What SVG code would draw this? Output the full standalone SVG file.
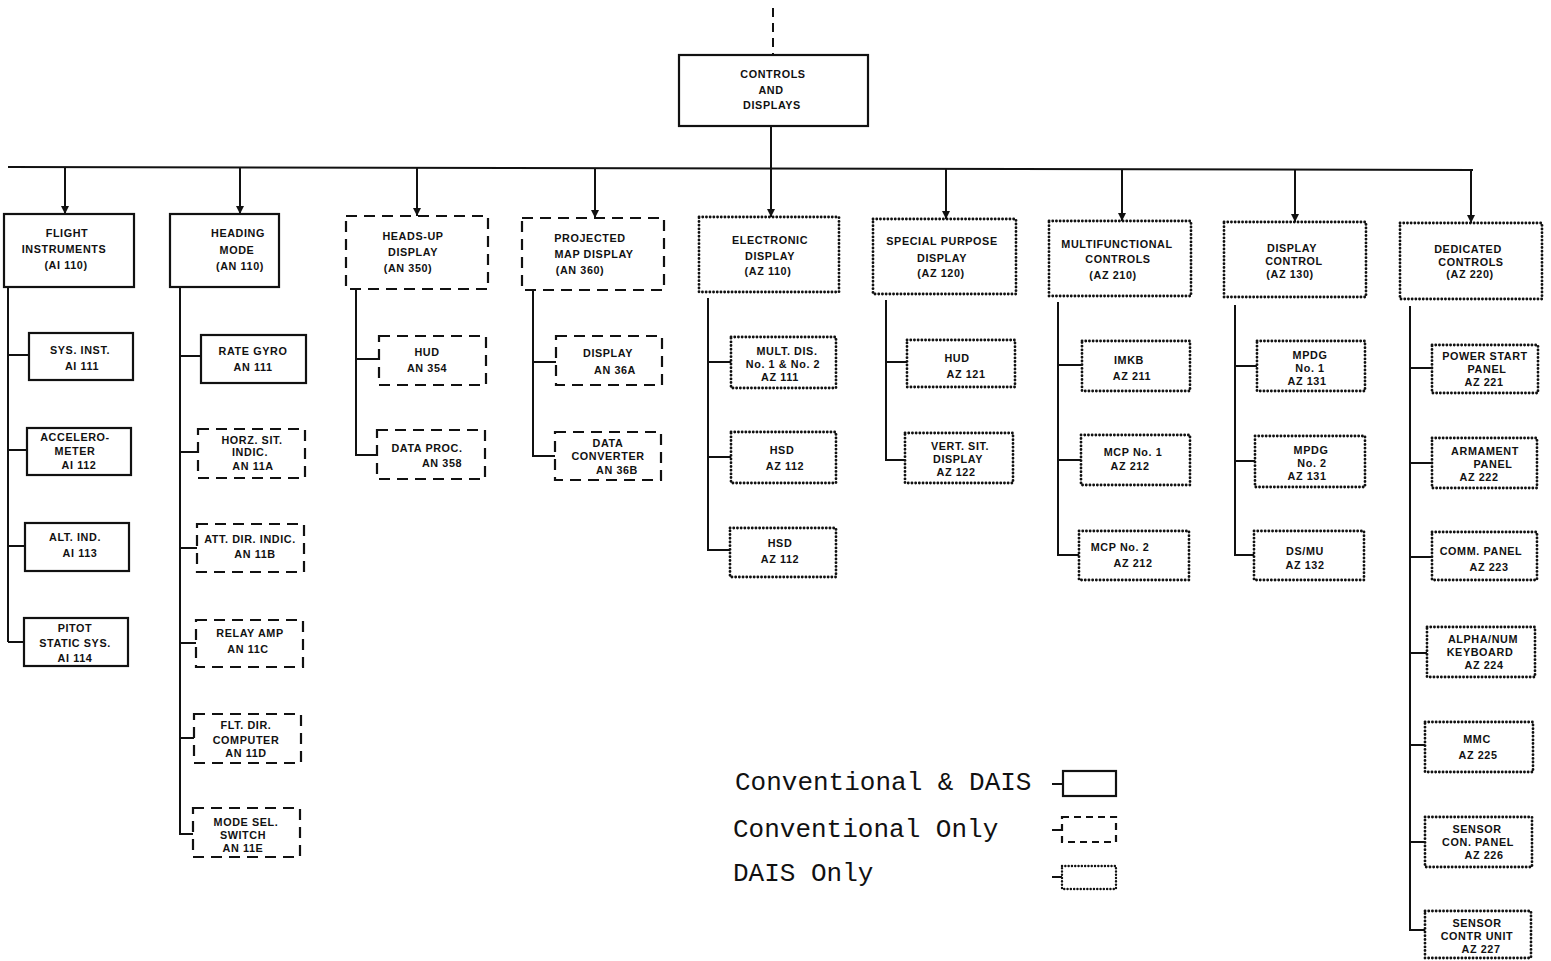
<svg xmlns="http://www.w3.org/2000/svg" width="1551" height="961" viewBox="0 0 1551 961">
<defs>
<marker id="arr" viewBox="0 0 10 10" refX="5" refY="10" markerWidth="8" markerHeight="9" markerUnits="userSpaceOnUse">
<path d="M0,0 L10,0 L5,10 Z" fill="#111"/>
</marker>
<style>
.solid{fill:#fff;stroke:#111;stroke-width:2.2}
.dash{fill:#fff;stroke:#111;stroke-width:2.2;stroke-dasharray:11 7}
.dot{fill:#fff;stroke:#111;stroke-width:2.8;stroke-dasharray:0.1 3.6;stroke-linecap:round}
.ln{fill:none;stroke:#111;stroke-width:2}
.t{font-family:"Liberation Sans",Arial,sans-serif;font-weight:bold;font-size:10.8px;letter-spacing:0.6px;text-anchor:middle;fill:#111}
.lg{font-family:"Liberation Mono","Courier New",monospace;font-size:26px;fill:#111}
</style>
</defs>
<rect width="1551" height="961" fill="#fff"/>

<g id="connectors">
<line class="ln" x1="773" y1="8" x2="773" y2="55" stroke-dasharray="9 6"/>
<line class="ln" x1="771" y1="126" x2="771" y2="168"/>
<line class="ln" x1="8" y1="167" x2="1473" y2="170"/>
<line class="ln" x1="65" y1="167" x2="65" y2="214" marker-end="url(#arr)"/>
<line class="ln" x1="240" y1="167" x2="240" y2="214" marker-end="url(#arr)"/>
<line class="ln" x1="417" y1="168" x2="417" y2="216" marker-end="url(#arr)"/>
<line class="ln" x1="595" y1="168" x2="595" y2="218" marker-end="url(#arr)"/>
<line class="ln" x1="771" y1="168" x2="771" y2="217" marker-end="url(#arr)"/>
<line class="ln" x1="946" y1="169" x2="946" y2="219" marker-end="url(#arr)"/>
<line class="ln" x1="1122" y1="169" x2="1122" y2="221" marker-end="url(#arr)"/>
<line class="ln" x1="1295" y1="170" x2="1295" y2="222" marker-end="url(#arr)"/>
<line class="ln" x1="1471" y1="170" x2="1471" y2="223" marker-end="url(#arr)"/>
<path class="ln" d="M8,287 V642 M8,355 H29 M8,450 H27 M8,546 H25 M8,642 H24"/>
<path class="ln" d="M180,287 V834 H193 M180,356 H201 M180,452 H198 M180,548 H197 M180,643 H196 M180,738 H194"/>
<path class="ln" d="M356,289 V455 H377 M356,359 H379"/>
<path class="ln" d="M533,290 V456 H555 M533,362 H556"/>
<path class="ln" d="M708,298 V550 H730 M708,362 H731 M708,457 H731"/>
<path class="ln" d="M886,300 V460 H905 M886,362 H907"/>
<path class="ln" d="M1058,302 V555 H1079 M1058,365 H1082 M1058,460 H1081"/>
<path class="ln" d="M1235,305 V555 H1254 M1235,366 H1257 M1235,461 H1255"/>
<path class="ln" d="M1410,306 V930 H1425 M1410,368 H1432 M1410,463 H1432 M1410,557 H1432 M1410,653 H1427 M1410,745 H1425 M1410,842 H1425"/>
</g>

<g id="controls-displays">
<rect class="solid" x="679" y="55" width="189" height="71"/>
<text class="t" x="773" y="78">CONTROLS</text>
<text class="t" x="771" y="94">AND</text>
<text class="t" x="772" y="109">DISPLAYS</text>
</g>

<g id="flight-instruments">
<rect class="solid" x="4" y="214" width="130" height="73"/>
<text class="t" x="67" y="237">FLIGHT</text>
<text class="t" x="64" y="253">INSTRUMENTS</text>
<text class="t" x="66" y="269">(AI 110)</text>
</g>
<g id="ai111"><rect class="solid" x="29" y="333" width="104" height="47"/><text class="t" x="80" y="354">SYS. INST.</text><text class="t" x="82" y="370">AI 111</text></g>
<g id="ai112"><rect class="solid" x="27" y="428" width="104" height="47"/><text class="t" x="75" y="441">ACCELERO-</text><text class="t" x="75" y="455">METER</text><text class="t" x="79" y="469">AI 112</text></g>
<g id="ai113"><rect class="solid" x="25" y="523" width="104" height="48"/><text class="t" x="75" y="541">ALT. IND.</text><text class="t" x="80" y="557">AI 113</text></g>
<g id="ai114"><rect class="solid" x="24" y="618" width="104" height="48"/><text class="t" x="75" y="632">PITOT</text><text class="t" x="75" y="647">STATIC SYS.</text><text class="t" x="75" y="662">AI 114</text></g>

<g id="heading-mode">
<rect class="solid" x="170" y="214" width="109" height="73"/>
<text class="t" x="238" y="237">HEADING</text>
<text class="t" x="237" y="254">MODE</text>
<text class="t" x="240" y="270">(AN 110)</text>
</g>
<g id="an111"><rect class="solid" x="201" y="335" width="105" height="48"/><text class="t" x="253" y="355">RATE GYRO</text><text class="t" x="253" y="371">AN 111</text></g>
<g id="an11a"><rect class="dash" x="198" y="429" width="107" height="49"/><text class="t" x="252" y="444">HORZ. SIT.</text><text class="t" x="250" y="456">INDIC.</text><text class="t" x="253" y="470">AN 11A</text></g>
<g id="an11b"><rect class="dash" x="197" y="524" width="107" height="48"/><text class="t" x="250" y="543">ATT. DIR. INDIC.</text><text class="t" x="255" y="558">AN 11B</text></g>
<g id="an11c"><rect class="dash" x="196" y="620" width="107" height="47"/><text class="t" x="250" y="637">RELAY AMP</text><text class="t" x="248" y="653">AN 11C</text></g>
<g id="an11d"><rect class="dash" x="194" y="714" width="107" height="49"/><text class="t" x="246" y="729">FLT. DIR.</text><text class="t" x="246" y="744">COMPUTER</text><text class="t" x="246" y="757">AN 11D</text></g>
<g id="an11e"><rect class="dash" x="193" y="808" width="107" height="49"/><text class="t" x="246" y="826">MODE SEL.</text><text class="t" x="243" y="839">SWITCH</text><text class="t" x="243" y="852">AN 11E</text></g>

<g id="heads-up-display">
<rect class="dash" x="346" y="216" width="142" height="73"/>
<text class="t" x="413" y="240">HEADS-UP</text>
<text class="t" x="413" y="256">DISPLAY</text>
<text class="t" x="408" y="272">(AN 350)</text>
</g>
<g id="an354"><rect class="dash" x="379" y="336" width="107" height="49"/><text class="t" x="427" y="356">HUD</text><text class="t" x="427" y="372">AN 354</text></g>
<g id="an358"><rect class="dash" x="377" y="430" width="108" height="49"/><text class="t" x="427" y="452">DATA PROC.</text><text class="t" x="442" y="467">AN 358</text></g>

<g id="projected-map-display">
<rect class="dash" x="522" y="218" width="142" height="72"/>
<text class="t" x="590" y="242">PROJECTED</text>
<text class="t" x="594" y="258">MAP DISPLAY</text>
<text class="t" x="580" y="274">(AN 360)</text>
</g>
<g id="an36a"><rect class="dash" x="556" y="336" width="106" height="49"/><text class="t" x="608" y="357">DISPLAY</text><text class="t" x="615" y="374">AN 36A</text></g>
<g id="an36b"><rect class="dash" x="555" y="432" width="106" height="48"/><text class="t" x="608" y="447">DATA</text><text class="t" x="608" y="460">CONVERTER</text><text class="t" x="617" y="474">AN 36B</text></g>

<g id="electronic-display">
<rect class="dot" x="699" y="217" width="140" height="75"/>
<text class="t" x="770" y="244">ELECTRONIC</text>
<text class="t" x="770" y="260">DISPLAY</text>
<text class="t" x="768" y="275">(AZ 110)</text>
</g>
<g id="az111"><rect class="dot" x="731" y="337" width="105" height="51"/><text class="t" x="787" y="355">MULT. DIS.</text><text class="t" x="783" y="368">No. 1 &amp; No. 2</text><text class="t" x="780" y="381">AZ 111</text></g>
<g id="az112a"><rect class="dot" x="731" y="432" width="105" height="51"/><text class="t" x="782" y="454">HSD</text><text class="t" x="785" y="470">AZ 112</text></g>
<g id="az112b"><rect class="dot" x="730" y="528" width="106" height="49"/><text class="t" x="780" y="547">HSD</text><text class="t" x="780" y="563">AZ 112</text></g>

<g id="special-purpose-display">
<rect class="dot" x="873" y="219" width="143" height="75"/>
<text class="t" x="942" y="245">SPECIAL PURPOSE</text>
<text class="t" x="942" y="262">DISPLAY</text>
<text class="t" x="941" y="277">(AZ 120)</text>
</g>
<g id="az121"><rect class="dot" x="907" y="340" width="108" height="47"/><text class="t" x="957" y="362">HUD</text><text class="t" x="966" y="378">AZ 121</text></g>
<g id="az122"><rect class="dot" x="905" y="433" width="108" height="50"/><text class="t" x="960" y="450">VERT. SIT.</text><text class="t" x="958" y="463">DISPLAY</text><text class="t" x="956" y="476">AZ 122</text></g>

<g id="multifunctional-controls">
<rect class="dot" x="1049" y="221" width="142" height="75"/>
<text class="t" x="1117" y="248">MULTIFUNCTIONAL</text>
<text class="t" x="1118" y="263">CONTROLS</text>
<text class="t" x="1113" y="279">(AZ 210)</text>
</g>
<g id="az211"><rect class="dot" x="1082" y="341" width="108" height="50"/><text class="t" x="1129" y="364">IMKB</text><text class="t" x="1132" y="380">AZ 211</text></g>
<g id="az212a"><rect class="dot" x="1081" y="435" width="109" height="50"/><text class="t" x="1133" y="456">MCP No. 1</text><text class="t" x="1130" y="470">AZ 212</text></g>
<g id="az212b"><rect class="dot" x="1079" y="531" width="110" height="49"/><text class="t" x="1120" y="551">MCP No. 2</text><text class="t" x="1133" y="567">AZ 212</text></g>

<g id="display-control">
<rect class="dot" x="1224" y="222" width="142" height="75"/>
<text class="t" x="1292" y="252">DISPLAY</text>
<text class="t" x="1294" y="265">CONTROL</text>
<text class="t" x="1290" y="278">(AZ 130)</text>
</g>
<g id="az131a"><rect class="dot" x="1257" y="341" width="108" height="50"/><text class="t" x="1310" y="359">MPDG</text><text class="t" x="1310" y="372">No. 1</text><text class="t" x="1307" y="385">AZ 131</text></g>
<g id="az131b"><rect class="dot" x="1255" y="436" width="110" height="51"/><text class="t" x="1311" y="454">MPDG</text><text class="t" x="1312" y="467">No. 2</text><text class="t" x="1307" y="480">AZ 131</text></g>
<g id="az132"><rect class="dot" x="1254" y="531" width="110" height="49"/><text class="t" x="1305" y="555">DS/MU</text><text class="t" x="1305" y="569">AZ 132</text></g>

<g id="dedicated-controls">
<rect class="dot" x="1400" y="223" width="142" height="76"/>
<text class="t" x="1468" y="253">DEDICATED</text>
<text class="t" x="1471" y="266">CONTROLS</text>
<text class="t" x="1470" y="278">(AZ 220)</text>
</g>
<g id="az221"><rect class="dot" x="1432" y="345" width="106" height="48"/><text class="t" x="1485" y="360">POWER START</text><text class="t" x="1487" y="373">PANEL</text><text class="t" x="1484" y="386">AZ 221</text></g>
<g id="az222"><rect class="dot" x="1432" y="438" width="105" height="50"/><text class="t" x="1485" y="455">ARMAMENT</text><text class="t" x="1493" y="468">PANEL</text><text class="t" x="1479" y="481">AZ 222</text></g>
<g id="az223"><rect class="dot" x="1432" y="532" width="105" height="48"/><text class="t" x="1481" y="555">COMM. PANEL</text><text class="t" x="1489" y="571">AZ 223</text></g>
<g id="az224"><rect class="dot" x="1427" y="627" width="108" height="50"/><text class="t" x="1483" y="643">ALPHA/NUM</text><text class="t" x="1480" y="656">KEYBOARD</text><text class="t" x="1484" y="669">AZ 224</text></g>
<g id="az225"><rect class="dot" x="1425" y="722" width="108" height="50"/><text class="t" x="1477" y="743">MMC</text><text class="t" x="1478" y="759">AZ 225</text></g>
<g id="az226"><rect class="dot" x="1425" y="817" width="107" height="50"/><text class="t" x="1477" y="833">SENSOR</text><text class="t" x="1478" y="846">CON. PANEL</text><text class="t" x="1484" y="859">AZ 226</text></g>
<g id="az227"><rect class="dot" x="1425" y="911" width="106" height="47"/><text class="t" x="1477" y="927">SENSOR</text><text class="t" x="1477" y="940">CONTR UNIT</text><text class="t" x="1481" y="953">AZ 227</text></g>

<g id="legend">
<text class="lg" x="735" y="790">Conventional &amp; DAIS</text>
<text class="lg" x="733" y="837">Conventional Only</text>
<text class="lg" x="733" y="881">DAIS Only</text>
<path class="ln" d="M1052,784 H1063 M1052,830 H1062 M1052,877 H1062"/>
<rect class="solid" x="1063" y="771" width="53" height="25"/>
<rect class="dash" x="1062" y="817" width="54" height="25" style="stroke-dasharray:7 5"/>
<rect class="dot" x="1062" y="866" width="54" height="23" style="stroke-width:2.4;stroke-dasharray:0.1 3.2"/>
</g>
</svg>
